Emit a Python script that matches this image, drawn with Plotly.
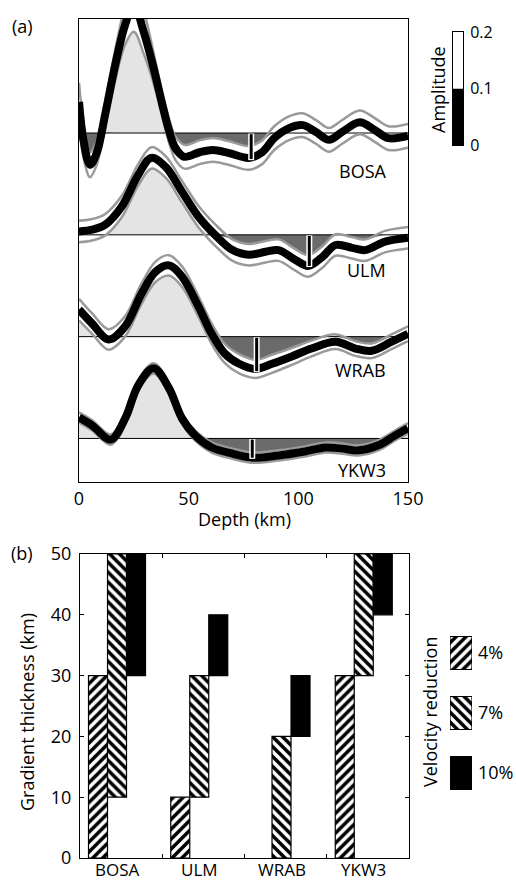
import numpy as np
import plotly.graph_objects as go

W, H = 516, 881

stations = ["BOSA", "ULM", "WRAB", "YKW3"]

# ---------------- Panel (a) data: amplitude vs depth ----------------
bosa_depth = [0, 2, 5, 8, 12, 16.5, 21, 25, 29.5, 34, 38, 41, 44, 48, 55, 61, 68, 77.5, 83.5, 89, 96, 102, 108, 114, 120, 128, 135, 141, 150]
bosa_amp = [0.055, -0.012, -0.056, -0.036, 0.034, 0.120, 0.191, 0.227, 0.179, 0.115, 0.050, 0.005, -0.027, -0.042, -0.034,
            -0.030, -0.035, -0.044, -0.034, -0.009, 0.009, 0.014, 0.002, -0.012, 0.002, 0.019, 0.005, -0.009, -0.005]
bosa_err = [0.034, 0.030, 0.022, 0.021, 0.021, 0.027, 0.035, 0.048, 0.039, 0.027, 0.021, 0.021, 0.021, 0.021, 0.021,
            0.021, 0.021, 0.021, 0.021, 0.021, 0.021, 0.021, 0.021, 0.021, 0.021, 0.021, 0.021, 0.021, 0.021]

ulm_depth = [0, 6, 12, 19.5, 27, 33, 39.5, 47, 54.5, 62, 70, 77.5, 85, 91, 98.5, 104.5, 111, 117, 124.5, 130.5, 139.5, 150]
ulm_amp = [0.006, 0.009, 0.018, 0.050, 0.106, 0.136, 0.120, 0.076, 0.032, 0.000, -0.027, -0.035, -0.030, -0.027,
           -0.044, -0.055, -0.039, -0.018, -0.023, -0.027, -0.012, -0.005]
ulm_err = [0.019] * 22

wrab_depth = [0, 6, 13.5, 21, 28.5, 35, 41, 47, 54.5, 60.5, 66.5, 73, 80.5, 88, 97, 106, 117, 126, 133.5, 142.5, 150]
wrab_amp = [0.048, 0.023, -0.005, 0.018, 0.076, 0.115, 0.126, 0.106, 0.053, 0.005, -0.030, -0.048, -0.057, -0.048,
            -0.035, -0.021, -0.009, -0.021, -0.025, -0.009, 0.005]
wrab_err = [0.019, 0.018, 0.018, 0.018, 0.018, 0.018, 0.018, 0.018, 0.018, 0.018, 0.017, 0.017, 0.016, 0.016,
            0.015, 0.014, 0.013, 0.013, 0.013, 0.013, 0.013]

ykw3_depth = [0, 6, 14.5, 21, 27, 34, 41, 47, 53, 60.5, 70, 79, 91, 103, 112.5, 120, 127.5, 136.5, 144, 150]
ykw3_amp = [0.037, 0.023, -0.002, 0.035, 0.094, 0.124, 0.089, 0.035, 0.005, -0.016, -0.027, -0.034, -0.030, -0.023,
            -0.016, -0.018, -0.021, -0.012, 0.005, 0.018]
ykw3_err = [0.009] * 20

# markers (depth of vertical tick and its lower end amplitude)
mark_depth = [78.5, 105, 81, 79]
mark_amp = [-0.046, -0.055, -0.061, -0.034]

trace_spacing = 0.18

# amplitude scale bar segments (lower black, upper white)
scale_base = [0, 0.1]
scale_len = [0.1, 0.1]
scale_ticks = [0, 0.1, 0.2]
scale_labels = ["0", "0.1", "0.2"]

# ---------------- Panel (b) data: gradient thickness ranges ----------------
v4_base = [0, 0, None, 0]
v4_top = [30, 10, None, 30]
v7_base = [10, 10, 0, 30]
v7_top = [50, 30, 20, 50]
v10_base = [30, 30, 20, 40]
v10_top = [50, 40, 30, 50]
legend_labels = ["4%", "7%", "10%"]

LIGHT = "#e4e4e4"
DARK = "#6b6b6b"
GRAY = "#9a9a9a"
FONT = "Open Sans"

fig = go.Figure()

series = [(bosa_depth, bosa_amp, bosa_err), (ulm_depth, ulm_amp, ulm_err),
          (wrab_depth, wrab_amp, wrab_err), (ykw3_depth, ykw3_amp, ykw3_err)]

common = dict(showlegend=False, hoverinfo="skip", xaxis="x", yaxis="y")

# fills
for i, (d, a, e) in enumerate(series):
    off = -trace_spacing * i
    d = np.array(d, float); a = np.array(a, float); e = np.array(e, float)
    lo = a - e
    up = a + e
    base = np.full(len(d), off)
    fig.add_trace(go.Scatter(x=d, y=base, mode="lines", line=dict(width=0), **common))
    fig.add_trace(go.Scatter(x=d, y=off + np.maximum(lo, 0), mode="lines",
                             line=dict(width=0, shape="spline"), fill="tonexty", fillcolor=LIGHT, **common))
    fig.add_trace(go.Scatter(x=d, y=base, mode="lines", line=dict(width=0), **common))
    fig.add_trace(go.Scatter(x=d, y=off + np.minimum(up, 0), mode="lines",
                             line=dict(width=0, shape="spline"), fill="tonexty", fillcolor=DARK, **common))

# baselines
for i in range(len(series)):
    off = -trace_spacing * i
    fig.add_trace(go.Scatter(x=[0, 150], y=[off, off], mode="lines",
                             line=dict(color="black", width=1), **common))

# gray bounds and black mean
for i, (d, a, e) in enumerate(series):
    off = -trace_spacing * i
    a = np.array(a, float); e = np.array(e, float)
    for sgn in (1, -1):
        fig.add_trace(go.Scatter(x=d, y=off + a + sgn * e, mode="lines",
                                 line=dict(color=GRAY, width=2.5, shape="spline"), **common))
for i, (d, a, e) in enumerate(series):
    off = -trace_spacing * i
    fig.add_trace(go.Scatter(x=d, y=off + np.array(a, float), mode="lines",
                             line=dict(color="black", width=8, shape="spline"), **common))

# vertical markers
for i in range(len(series)):
    off = -trace_spacing * i
    fig.add_trace(go.Scatter(x=[mark_depth[i], mark_depth[i]], y=[off - 0.001, off + mark_amp[i] - 0.002],
                             mode="lines", line=dict(color="white", width=6), **common))
    fig.add_trace(go.Scatter(x=[mark_depth[i], mark_depth[i]], y=[off - 0.002, off + mark_amp[i]],
                             mode="lines", line=dict(color="black", width=3), **common))

# amplitude scale bar (own small axes)
for b, ln, col in zip(scale_base, scale_len, ["black", "white"]):
    fig.add_trace(go.Bar(x=[0], y=[ln], base=[b], width=1, offset=-0.5, marker=dict(color=col, line=dict(width=0)),
                         xaxis="x4", yaxis="y4", showlegend=False, hoverinfo="skip"))

# ---------------- Panel (b) bars ----------------
xidx = list(range(len(stations)))


def heights(b, t):
    return [None if (bb is None) else tt - bb for bb, tt in zip(b, t)]


PAT = dict(fgcolor="black", bgcolor="white", fgopacity=1, size=7, solidity=0.5)
bar_specs = [(v4_base, v4_top, "/"), (v7_base, v7_top, "\\"), (v10_base, v10_top, "")]
for (b, t, shp) in bar_specs:
    mk = dict(color="white" if shp else "black", line=dict(color="black", width=1.2))
    if shp:
        mk["pattern"] = dict(shape=shp, **PAT)
    fig.add_trace(go.Bar(x=xidx, y=heights(b, t), base=[0 if v is None else v for v in b],
                         marker=mk, xaxis="x2", yaxis="y2", showlegend=False, hoverinfo="skip"))

# legend boxes drawn as bars on their own small axes
for j, (b, t, shp) in enumerate(bar_specs):
    mk = dict(color="white" if shp else "black", line=dict(color="black", width=1.2))
    if shp:
        mk["pattern"] = dict(shape=shp, **PAT)
    fig.add_trace(go.Bar(x=[1], y=[j], orientation="h", base=[0], width=0.55, offset=-0.275,
                         marker=mk, xaxis="x3", yaxis="y3", showlegend=False, hoverinfo="skip"))

axis_font = dict(family=FONT, size=18, color="black")

fig.update_layout(
    width=W, height=H, margin=dict(l=0, r=0, t=0, b=0, autoexpand=False),
    paper_bgcolor="white", plot_bgcolor="white",
    barmode="group", bargap=0.307, bargroupgap=0,
    font=axis_font,
    xaxis=dict(domain=[79 / W, 408 / W], anchor="y", range=[0, 150], tickvals=[0, 50, 100, 150],
               ticks="", showline=True, mirror=True, linecolor="black", linewidth=1, showgrid=False,
               zeroline=False, tickfont=axis_font, automargin=False),
    yaxis=dict(domain=[(H - 482) / H, (H - 19) / H], anchor="x", range=[-0.617, 0.2016],
               showticklabels=False, ticks="", showline=True, mirror=True, linecolor="black",
               linewidth=1, showgrid=False, zeroline=False, automargin=False),
    xaxis2=dict(domain=[80 / W, 409 / W], anchor="y2", range=[-0.45, 3.55], tickvals=xidx,
                showticklabels=False, ticks="", showline=True, mirror="ticks", linecolor="black",
                linewidth=1, showgrid=False, zeroline=False, automargin=False,
                minor=dict(tickmode="array", tickvals=[0.55, 1.55, 2.55], ticks="inside", ticklen=4,
                           tickcolor="black", showgrid=False)),
    yaxis2=dict(domain=[(H - 858) / H, (H - 554) / H], anchor="x2", range=[0, 50], dtick=10,
                ticks="inside", ticklen=4, tickcolor="black", showline=True, mirror="ticks",
                linecolor="black", linewidth=1, showgrid=False, zeroline=False, tickfont=axis_font,
                ticklabelstandoff=4, automargin=False),
    xaxis3=dict(domain=[450 / W, 472 / W], anchor="y3", range=[0, 1], visible=False, automargin=False),
    yaxis3=dict(domain=[(H - 803) / H, (H - 623) / H], anchor="x3", range=[2.5, -0.5],
                side="right", tickvals=[0, 1, 2], ticktext=legend_labels, ticks="", showline=False,
                showgrid=False, zeroline=False, tickfont=axis_font, ticklabelstandoff=5, automargin=False),
    xaxis4=dict(domain=[453 / W, 463 / W], anchor="y4", range=[-0.5, 0.5], showticklabels=False, ticks="",
                showline=True, mirror=True, linecolor="black", linewidth=1, showgrid=False, zeroline=False,
                automargin=False),
    yaxis4=dict(domain=[(H - 145) / H, (H - 32) / H], anchor="x4", range=[0, 0.2], side="right",
                tickvals=scale_ticks, ticktext=scale_labels, ticks="", showline=True, mirror=True,
                linecolor="black", linewidth=1, showgrid=False, zeroline=False, automargin=False,
                tickfont=dict(family=FONT, size=16, color="black"), ticklabelstandoff=3),
)

ann = []


def add_text(text, px, py, angle=0, xanchor="center"):
    ann.append(dict(text=text, x=px / W, y=(H - py) / H, xref="paper", yref="paper", showarrow=False,
                    textangle=angle, xanchor=xanchor, yanchor="middle", font=axis_font))


add_text("(a)", 22, 26)
add_text("(b)", 22, 553)
add_text("Depth (km)", 244, 519)
add_text("Gradient thickness (km)", 27, 712, -90)
add_text("Velocity reduction", 430, 712, -90)
add_text("Amplitude", 438, 90, -90)

label_px_y = [171, 270, 370, 470]
for s, py in zip(stations, label_px_y):
    add_text(s, 388, py, xanchor="right")

# category labels of panel (b), placed on the bar-group positions
for k, s in enumerate(stations):
    ann.append(dict(text=s, x=k, xref="x2", y=(H - 869) / H, yref="paper", showarrow=False,
                    xanchor="center", yanchor="middle", borderpad=0,
                    font=dict(family=FONT, size=17, color="black")))

fig.update_layout(annotations=ann)

fig.write_html("out.html")
